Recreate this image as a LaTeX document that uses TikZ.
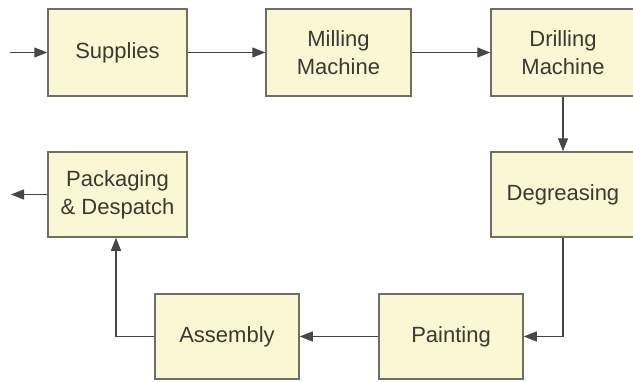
\documentclass[tikz,border=0pt]{standalone}
\usepackage{fontspec}
\setmainfont{Liberation Sans}
\usetikzlibrary{arrows.meta}
\definecolor{boxfill}{RGB}{250,247,212}
\definecolor{boxline}{RGB}{110,110,105}
\definecolor{txt}{RGB}{60,58,48}
\definecolor{arr}{RGB}{70,70,70}
\tikzset{
  stage/.style={draw=boxline, fill=boxfill, line width=1.5pt, inner sep=0pt,
    align=center, text=txt, font=\fontsize{22}{28}\selectfont},
  flow/.style={draw=arr, line width=1.4pt, -{Triangle[length=13pt,width=10pt]}}
}
\begin{document}
\begin{tikzpicture}[x=1pt,y=-1pt]
\useasboundingbox (0,0) rectangle (633,381);
\clip (0,0) rectangle (633,381);
\node[stage, minimum width=139pt, minimum height=87pt] (sup) at (117.5,52.5) {Supplies};
\node[stage, minimum width=145pt, minimum height=87pt] (mil) at (338.5,52.5) {Milling\\Machine};
\node[stage, minimum width=144pt, minimum height=87pt] (dri) at (563,52.5) {Drilling\\Machine};
\node[stage, minimum width=144pt, minimum height=85pt] (deg) at (563,194.5) {Degreasing};
\node[stage, minimum width=139pt, minimum height=85pt] (pac) at (117.5,194.5) {Packaging\\\& Despatch};
\node[stage, minimum width=144pt, minimum height=85pt] (ass) at (227,336.5) {Assembly};
\node[stage, minimum width=144pt, minimum height=85pt] (pai) at (451,336.5) {Painting};
\coordinate (in) at (10,52.5);
\coordinate (out) at (11,194.5);
\draw[flow] (in) -- (sup.west);
\draw[flow] (sup.east) -- (mil.west);
\draw[flow] (mil.east) -- (dri.west);
\draw[flow] (dri.south) -- (deg.north);
\draw[flow] (deg.south) |- (pai.east);
\draw[flow] (pai.west) -- (ass.east);
\draw[flow] (ass.west) -| ([xshift=-1.5pt]pac.south);
\draw[flow] (pac.west) -- (out);
\end{tikzpicture}
\end{document}
